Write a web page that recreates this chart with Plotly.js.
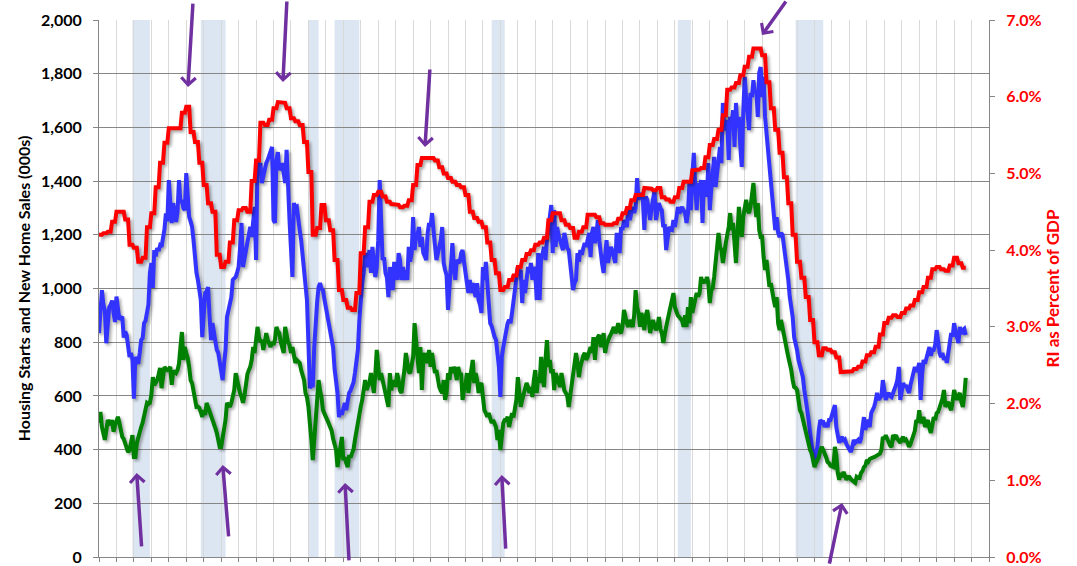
<!DOCTYPE html>
<html><head><meta charset="utf-8">
<script src="https://cdn.plot.ly/plotly-3.0.1.min.js"></script>
<style>
html,body{margin:0;padding:0;background:#fff;}
#chart{width:1077px;height:566px;}
.scatterlayer .js-line{filter:drop-shadow(2px 2px 1.5px rgba(0,0,0,0.35));}
</style></head><body><div id="chart"></div>
<script>
const startYear = 1968;
// Single-family housing starts (000s, SAAR), monthly from Jan 1968
const starts = [
834,900,994,940,920,796,880,930,940,955,910,875,
970,920,885,890,895,817,840,827,790,745,760,734,
590,745,730,720,760,808,815,871,880,920,940,1058,
1095,1002,1143,1120,1150,1140,1160,1155,1180,1220,1280,1250,
1404,1300,1244,1318,1270,1248,1285,1404,1320,1330,1300,1292,
1430,1330,1267,1250,1230,1180,1106,1060,1032,1000,957,819,
920,983,990,1005,900,808,871,840,800,771,760,720,
700,659,720,771,894,920,950,968,1032,1040,1043,1060,
1080,1150,1244,1080,1110,1125,1150,1180,1230,1192,1250,1304,
1106,1479,1453,1467,1393,1420,1441,1467,1479,1497,1510,1527,
1255,1244,1479,1508,1441,1450,1467,1430,1393,1516,1356,1255,
1150,1043,1318,1300,1304,1250,1218,1180,1130,1080,1006,957,
797,629,640,633,782,880,950,1006,1020,1000,994,960,
931,909,883,850,808,780,700,659,611,521,547,530,
560,574,547,596,611,620,633,650,685,720,771,880,
983,1020,1058,1132,1080,1100,1143,1058,1155,1080,1043,1080,
1180,1404,1180,1106,1117,1058,1040,968,1080,1030,994,1099,
1050,1032,1132,1106,1032,1080,1032,1069,1032,1155,1100,1132,
1266,1143,1192,1200,1229,1155,1192,1132,1120,1106,1207,1244,
1230,1281,1218,1143,1106,1130,1155,1180,1229,1095,1069,1050,
920,1020,1117,1169,1080,1032,1106,1100,1095,1132,1143,1100,
1069,1020,983,1032,983,1020,990,968,1020,957,940,909,
1080,1032,1099,1006,909,871,860,834,820,808,760,708,
596,745,782,819,850,871,883,871,909,957,1006,1030,
1080,1058,1069,946,1032,983,1020,1080,1058,1095,1032,1080,
1058,957,1132,957,1117,1130,1155,1106,1180,1229,1260,1311,
1132,1292,1155,1229,1200,1180,1160,1143,1207,1169,1150,1143,
1100,1058,994,1020,1032,1132,1100,1143,1125,1150,1169,1155,
1180,1207,1117,1207,1229,1169,1200,1255,1180,1117,1090,1058,
1143,1180,1095,1130,1155,1140,1117,1095,1207,1150,1132,1229,
1218,1255,1240,1229,1304,1255,1280,1304,1281,1300,1411,1330,
1356,1340,1330,1218,1342,1330,1290,1255,1300,1330,1367,1255,
1300,1318,1300,1292,1229,1240,1143,1200,1229,1220,1218,1255,
1229,1260,1304,1280,1292,1304,1290,1281,1244,1281,1393,1292,
1420,1505,1378,1292,1393,1350,1404,1244,1404,1380,1342,1467,
1292,1367,1420,1490,1378,1441,1480,1527,1467,1691,1590,1616,
1627,1479,1639,1616,1664,1527,1691,1600,1639,1527,1453,1654,
1788,1713,1650,1590,1728,1713,1776,1728,1739,1639,1803,1825,
1713,1788,1639,1579,1505,1441,1393,1356,1292,1218,1266,1207,
1192,1207,1200,1155,1130,1095,1032,968,930,894,819,800,
771,734,710,697,670,622,590,559,510,462,410,380,
361,387,410,473,510,503,503,484,499,484,510,510,
530,559,566,484,460,425,440,447,430,436,420,410,
400,391,410,436,425,430,436,425,440,480,521,473,
510,500,484,536,545,559,580,611,585,596,600,659,
620,585,600,611,600,596,610,622,640,660,708,585,
620,648,633,640,625,611,640,659,680,708,690,700,
723,585,680,734,720,745,760,782,750,770,771,790,
845,800,760,745,760,734,745,723,770,808,834,820,
871,840,819,797,857,830,845,850,827
];
// New home sales (000s, SAAR), monthly from Jan 1968
const sales = [
499,540,484,460,436,470,510,500,492,510,466,490,
510,522,500,462,447,440,424,410,391,398,430,454,
372,372,424,447,460,484,500,522,555,574,570,574,
603,670,640,648,659,680,704,629,660,708,700,696,
700,708,641,689,690,685,696,720,782,838,734,782,
760,741,708,659,648,620,574,559,560,555,540,522,
547,529,574,560,540,522,510,499,480,462,430,410,
410,447,480,510,574,565,559,574,600,622,685,659,
622,610,596,574,600,659,680,696,708,734,782,760,
834,857,820,801,808,771,800,834,808,790,782,801,
790,810,857,840,834,800,771,760,857,819,800,790,
760,782,740,723,734,730,723,696,670,659,611,596,
560,510,436,361,440,510,633,659,620,596,547,530,
522,510,495,484,470,440,424,400,335,372,390,447,
361,372,350,335,380,370,387,400,436,470,510,547,
560,585,620,659,622,640,650,685,640,611,680,771,
708,659,685,660,633,611,600,559,685,620,659,640,
640,685,659,620,611,648,696,760,708,690,685,723,
745,871,808,745,685,782,622,734,760,723,740,771,
708,760,720,685,696,660,633,620,611,659,585,611,
685,660,708,685,708,690,659,708,680,685,585,622,
640,685,611,659,700,734,648,685,660,611,640,648,
596,547,536,522,536,520,499,510,495,484,436,473,
398,473,499,510,510,522,484,510,536,520,559,585,
670,622,559,585,611,633,648,633,611,633,596,659,
696,611,670,648,745,670,633,734,808,708,734,685,
700,622,685,670,650,633,685,640,620,611,600,559,
600,633,685,700,760,723,670,708,734,750,760,734,
745,771,782,760,819,734,800,819,827,782,800,834,
760,790,808,819,830,845,857,834,845,871,840,834,
860,920,883,870,857,883,870,857,900,994,930,909,
857,909,880,845,900,920,883,834,860,883,860,845,
857,894,850,834,797,820,857,883,909,931,960,983,
931,909,900,894,883,880,857,900,857,931,871,968,
909,946,960,983,970,983,1043,1020,1032,1020,1043,1020,
946,994,1000,1043,1106,1180,1207,1155,1143,1095,1143,1169,
1200,1229,1281,1218,1244,1155,1095,1200,1304,1230,1192,1266,
1304,1330,1292,1281,1304,1350,1393,1318,1266,1318,1218,1192,
1192,1117,1069,1106,1043,1006,1020,980,957,931,968,871,
845,883,850,819,797,771,745,723,697,659,633,630,
622,585,547,536,510,499,462,447,424,398,387,361,
335,350,361,372,398,410,398,387,372,354,350,340,
335,335,410,380,313,287,313,298,317,300,287,298,
298,290,287,280,276,298,294,294,313,320,335,340,
361,355,365,369,370,372,375,378,380,385,398,447,
440,454,440,425,415,410,454,445,454,440,430,425,
440,447,430,436,425,410,420,440,447,470,510,500,
547,499,510,521,484,500,510,480,462,490,521,510,
536,540,559,570,590,622,559,570,577,560,547,580,
622,600,585,600,611,577,559,600,667
];
// Residential investment as percent of GDP, quarterly from 1968 Q1
const riPct = [
4.20,4.22,4.24,4.37, 4.50,4.50,4.40,4.07, 4.03,3.85,3.90,4.30,
4.48,4.82,5.14,5.40, 5.59,5.59,5.59,5.79, 5.87,5.54,5.41,5.14,
4.85,4.61,4.50,3.94, 3.78,3.85,4.10,4.39, 4.52,4.55,4.50,4.90,
5.17,5.66,5.63,5.70, 5.85,5.93,5.92,5.85, 5.72,5.68,5.63,5.41,
5.02,4.20,4.29,4.59, 4.39,4.26,3.87,3.48, 3.35,3.25,3.22,3.44,
3.96,4.30,4.63,4.72, 4.76,4.70,4.63,4.60, 4.59,4.56,4.58,4.65,
4.85,5.11,5.20,5.21, 5.20,5.17,5.08,5.00, 4.94,4.89,4.85,4.82,
4.72,4.50,4.42,4.37, 4.30,4.10,3.87,3.70, 3.48,3.52,3.61,3.67,
3.78,3.87,3.95,4.00, 4.07,4.10,4.16,4.39, 4.48,4.48,4.39,4.33,
4.29,4.16,4.24,4.30, 4.46,4.46,4.43,4.35, 4.33,4.33,4.35,4.41,
4.48,4.55,4.65,4.72, 4.72,4.81,4.80,4.78, 4.81,4.69,4.66,4.63,
4.69,4.81,4.89,4.89, 5.04,5.05,5.07,5.21, 5.37,5.45,5.57,5.76,
6.09,6.12,6.18,6.28, 6.39,6.52,6.63,6.63, 6.54,6.19,5.85,5.57,
5.27,4.95,4.61,4.20, 3.85,3.64,3.39,3.09, 2.80,2.63,2.72,2.70,
2.67,2.60,2.41,2.42, 2.42,2.45,2.48,2.55, 2.63,2.67,2.74,2.90,
3.05,3.12,3.15,3.13, 3.18,3.24,3.28,3.35, 3.45,3.52,3.64,3.75,
3.78,3.75,3.73,3.80, 3.90,3.83,3.77
];
// NBER recessions (decimal years)
const recessionStart = [1969.917, 1973.833, 1980.0, 1981.5, 1990.5, 2001.167, 2007.917];
const recessionEnd   = [1970.917, 1975.25, 1980.583, 1982.917, 1991.25, 2001.917, 2009.5];
// Purple arrows: tip (year, value on left axis) and tail offset in px
const arrowX  = [1973.10, 1978.54, 1986.68, 2005.99, 1970.16, 1975.09, 1982.10, 1991.08, 2010.58];
const arrowY  = [1750, 1769, 1527, 1944, 313, 343, 276, 305, 201];
const arrowAX = [5, 4, 5, 25, 5, 6, 4, 4, -13];
const arrowAY = [-85, -82, -79, -35, 75, 73, 79, 75, 62];

const n = starts.length;
const xs = [], redM = [];
for (let i = 0; i < n; i++) {
  xs.push(startYear + i / 12);
  redM.push(riPct[Math.floor(i / 3)]);
}

const FONT = 'Lato, "Open Sans", sans-serif';
const traces = [
  {x: xs, y: starts, type: 'scatter', mode: 'lines', name: 'Housing Starts',
   line: {color: '#3333FF', width: 4}, hoverinfo: 'skip'},
  {x: xs, y: sales.slice(0, n), type: 'scatter', mode: 'lines', name: 'New Home Sales',
   line: {color: '#008000', width: 4}, hoverinfo: 'skip'},
  {x: xs, y: redM, type: 'scatter', mode: 'lines', name: 'RI % GDP', yaxis: 'y2',
   line: {color: '#FF0000', width: 4}, hoverinfo: 'skip'}
];

const shapes = recessionStart.map((s, i) => ({
  type: 'rect', xref: 'x', yref: 'y', x0: s, x1: recessionEnd[i], y0: 0, y1: 2000,
  fillcolor: '#DCE6F2', line: {width: 0}, layer: 'below'
}));

const annotations = arrowX.map((x, i) => ({
  x: x, y: arrowY[i], xref: 'x', yref: 'y', text: '', showarrow: true,
  ax: arrowAX[i], ay: arrowAY[i], arrowcolor: '#7030A0', arrowwidth: 3.5,
  arrowhead: 4, arrowsize: 0.8, standoff: 0, startstandoff: 0
}));

const layout = {
  width: 1077, height: 566,
  margin: {l: 99, r: 88, t: 20, b: 9},
  paper_bgcolor: '#fff', plot_bgcolor: 'rgba(0,0,0,0)',
  showlegend: false,
  font: {family: FONT},
  xaxis: {
    range: [1968, 2019], tick0: 1968, dtick: 1, showticklabels: false,
    showgrid: true, gridcolor: '#D9D9D9', gridwidth: 1,
    ticks: 'outside', ticklen: 4, tickcolor: '#868686',
    showline: true, linecolor: '#868686', linewidth: 1, zeroline: false
  },
  yaxis: {
    range: [0, 2000], dtick: 200, tickformat: ',d',
    showgrid: true, gridcolor: '#868686', gridwidth: 1,
    ticks: 'outside', ticklen: 5, tickcolor: '#868686',
    showline: true, linecolor: '#868686', linewidth: 1, zeroline: false,
    tickfont: {family: FONT, size: 16, color: '#000', weight: 'bold'},
    ticklabelstandoff: 8,
    title: {text: 'Housing Starts and New Home Sales (000s)', standoff: 6,
            font: {family: FONT, size: 16, color: '#000', weight: 'bold'}}
  },
  yaxis2: {
    overlaying: 'y', side: 'right', range: [0, 7], dtick: 1,
    tickformat: '.1f', ticksuffix: '%', showgrid: false, zeroline: false,
    ticks: 'outside', ticklen: 5, tickcolor: '#868686',
    showline: true, linecolor: '#868686', linewidth: 1,
    tickfont: {family: FONT, size: 16, color: '#FF0000', weight: 'bold'},
    ticklabelstandoff: 8,
    title: {text: 'RI as Percent of GDP', standoff: 6,
            font: {family: FONT, size: 17, color: '#FF0000', weight: 'bold'}}
  },
  shapes: shapes,
  annotations: annotations
};

Plotly.newPlot('chart', traces, layout, {displayModeBar: false, staticPlot: true});
</script>
</body></html>
